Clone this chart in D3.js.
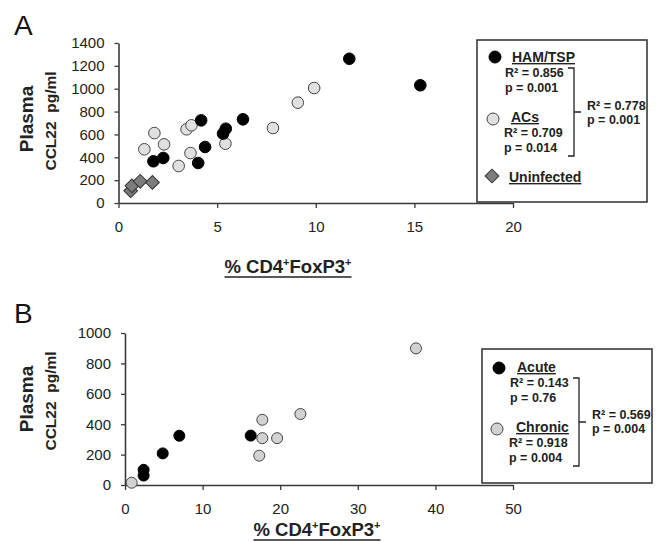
<!DOCTYPE html>
<html>
<head>
<meta charset="utf-8">
<script src="https://cdn.jsdelivr.net/npm/d3@7"></script>
<style>
  body { margin: 0; background: #fff; }
  svg { display: block; font-family: "Liberation Sans", Arial, sans-serif; }
</style>
</head>
<body>
<div id="chart"></div>
<script>
// ---- panel A data: [% CD4+FoxP3+, CCL22 pg/ml]
const hamTsp = [[1.77, 365], [2.27, 394], [4.19, 723], [4.04, 350], [4.39, 490],
                [5.30, 607], [5.44, 650], [6.31, 732], [11.7, 1262], [15.3, 1030]];
const acs = [[1.31, 470], [1.82, 612], [2.31, 513], [3.05, 324], [3.45, 645], [3.70, 680],
             [3.65, 437], [5.42, 519], [7.83, 656], [9.09, 878], [9.92, 1006]];
const uninfected = [[0.62, 108], [0.68, 150], [1.10, 190], [1.72, 180]];
const aTicksX = [0, 5, 10, 15, 20];
const aTicksY = [0, 200, 400, 600, 800, 1000, 1200, 1400];

// ---- panel B data
const acute = [[2.4, 100], [2.4, 62], [4.86, 208], [7.0, 324], [16.2, 325]];
const chronic = [[0.86, 15], [17.7, 429], [17.7, 308], [17.3, 193], [19.6, 308], [22.6, 467], [37.5, 899]];
const bTicksX = [0, 10, 20, 30, 40, 50];
const bTicksY = [0, 200, 400, 600, 800, 1000];

const w = 658, h = 542;
const ink = "#222", axisColor = "#3a3a3a";

const svg = d3.select("#chart").append("svg")
    .attr("width", w)
    .attr("height", h);

function drawPanel(p) {
    const x = d3.scaleLinear().domain([0, d3.max(p.ticksX)]).range(p.xRange);
    const y = d3.scaleLinear().domain([0, d3.max(p.ticksY)]).range(p.yRange);

    const xAxis = svg.append("g")
        .attr("transform", `translate(0, ${p.yRange[0]})`)
        .call(d3.axisBottom(x).tickValues(p.ticksX).tickFormat(d3.format("d"))
            .tickSizeInner(5).tickSizeOuter(0).tickPadding(13));
    const yAxis = svg.append("g")
        .attr("transform", `translate(${p.xRange[0]}, 0)`)
        .call(d3.axisLeft(y).tickValues(p.ticksY).tickFormat(d3.format("d"))
            .tickSizeInner(4).tickSizeOuter(0).tickPadding(10));

    [xAxis, yAxis].forEach(g => {
        g.select(".domain").attr("stroke", axisColor).attr("stroke-width", 1.6);
        g.selectAll(".tick line").attr("stroke", axisColor).attr("stroke-width", 1.3);
        g.selectAll(".tick text").attr("fill", ink).style("font-size", "15px");
    });

    // panel letter
    svg.append("text").attr("x", 14).attr("y", p.letterY)
        .style("font-size", "28px").attr("fill", "#111").text(p.letter);

    // y titles
    svg.append("text")
        .attr("transform", `translate(33, ${p.yTitleY}) rotate(-90)`)
        .attr("text-anchor", "middle")
        .style("font-size", "19px").style("font-weight", "bold").attr("fill", ink)
        .text("Plasma");
    svg.append("text")
        .attr("transform", `translate(56, ${p.yTitleY + 2}) rotate(-90)`)
        .attr("text-anchor", "middle")
        .style("font-size", "15.5px").style("font-weight", "bold").attr("fill", ink)
        .attr("xml:space", "preserve")
        .text("CCL22  pg/ml");

    // x title with superscripts, underlined
    const t = svg.append("text")
        .attr("x", p.xTitleX).attr("y", p.xTitleY)
        .attr("text-anchor", "middle")
        .style("font-size", "18.5px").style("font-weight", "bold").attr("fill", ink);
    t.append("tspan").text("% CD4");
    t.append("tspan").attr("dy", -7).style("font-size", "11px").text("+");
    t.append("tspan").attr("dy", 7).text("FoxP3");
    t.append("tspan").attr("dy", -7).style("font-size", "11px").text("+");
    const bb = t.node().getBBox();
    svg.append("line")
        .attr("x1", bb.x).attr("x2", bb.x + bb.width)
        .attr("y1", p.xTitleY + 4).attr("y2", p.xTitleY + 4)
        .attr("stroke", ink).attr("stroke-width", 1.6);

    // marks
    p.series.forEach(s => {
        const g = svg.append("g");
        if (s.shape === "diamond") {
            g.selectAll("path").data(s.data).enter().append("path")
                .attr("d", d3.symbol(d3.symbolSquare, 95)())
                .attr("transform", d => `translate(${x(d[0])}, ${y(d[1])}) rotate(45)`)
                .attr("fill", s.fill).attr("stroke", "#333").attr("stroke-width", 1);
        } else {
            g.selectAll("circle").data(s.data).enter().append("circle")
                .attr("cx", d => x(d[0])).attr("cy", d => y(d[1]))
                .attr("r", s.r)
                .attr("fill", s.fill).attr("stroke", s.stroke).attr("stroke-width", 1);
        }
    });

    // legend
    const L = p.legend;
    svg.append("rect")
        .attr("x", L.x).attr("y", L.y).attr("width", L.w).attr("height", L.h)
        .attr("fill", "#fff").attr("stroke", axisColor).attr("stroke-width", 1.6);

    L.items.forEach(it => {
        if (it.shape === "diamond") {
            svg.append("path")
                .attr("d", d3.symbol(d3.symbolSquare, 95)())
                .attr("transform", `translate(${it.sx}, ${it.sy}) rotate(45)`)
                .attr("fill", it.fill).attr("stroke", "#333");
        } else {
            svg.append("circle").attr("cx", it.sx).attr("cy", it.sy).attr("r", 6)
                .attr("fill", it.fill).attr("stroke", it.stroke);
        }
        svg.append("text").attr("x", it.lx).attr("y", it.ly)
            .style("font-size", "14px").style("font-weight", "bold")
            .style("text-decoration", "underline").attr("fill", ink)
            .text(it.label);
        (it.stats || []).forEach((s, i) => {
            svg.append("text").attr("x", it.lx - 7).attr("y", it.ly + 15 + i * 15)
                .style("font-size", "12.5px").style("font-weight", "bold").attr("fill", ink)
                .text(s);
        });
    });

    // bracket joining the two groups
    const B = L.bracket;
    svg.append("path")
        .attr("d", `M${B.x - 6},${B.y1} H${B.x} V${B.y2} H${B.x - 6} M${B.x},${(B.y1 + B.y2) / 2} H${B.x + 7}`)
        .attr("fill", "none").attr("stroke", ink).attr("stroke-width", 1.3);
    B.stats.forEach((s, i) => {
        svg.append("text").attr("x", B.x + 13).attr("y", B.ty + i * 14)
            .style("font-size", "12.5px").style("font-weight", "bold").attr("fill", ink)
            .text(s);
    });
}

drawPanel({
    letter: "A", letterY: 35,
    ticksX: aTicksX, ticksY: aTicksY,
    xRange: [118.5, 513], yRange: [203, 43],
    yTitleY: 119, xTitleX: 288, xTitleY: 273,
    series: [
        { data: acs, fill: "#e0e0e0", stroke: "#444", r: 5.8 },
        { data: hamTsp, fill: "#000", stroke: "#000", r: 5.8 },
        { data: uninfected, fill: "#7d7d7d", shape: "diamond" }
    ],
    legend: {
        x: 477, y: 40, w: 170, h: 162,
        items: [
            { label: "HAM/TSP", sx: 495, sy: 57, fill: "#000", stroke: "#000", lx: 512, ly: 62,
              stats: ["R² = 0.856", "p = 0.001"] },
            { label: "ACs", sx: 493, sy: 119, fill: "#e0e0e0", stroke: "#444", lx: 511, ly: 122,
              stats: ["R² = 0.709", "p = 0.014"] },
            { label: "Uninfected", shape: "diamond", sx: 492, sy: 176, fill: "#7d7d7d", lx: 509, ly: 182 }
        ],
        bracket: { x: 574, y1: 68, y2: 156, ty: 110, stats: ["R² = 0.778", "p = 0.001"] }
    }
});

drawPanel({
    letter: "B", letterY: 323,
    ticksX: bTicksX, ticksY: bTicksY,
    xRange: [125, 513], yRange: [485, 333],
    yTitleY: 399, xTitleX: 317, xTitleY: 536,
    series: [
        { data: chronic, fill: "#d2d2d2", stroke: "#444", r: 5.5 },
        { data: acute, fill: "#000", stroke: "#000", r: 5.5 }
    ],
    legend: {
        x: 482, y: 349, w: 170, h: 134,
        items: [
            { label: "Acute", sx: 499, sy: 368, fill: "#000", stroke: "#000", lx: 517, ly: 372,
              stats: ["R² = 0.143", "p = 0.76"] },
            { label: "Chronic", sx: 497, sy: 429, fill: "#d2d2d2", stroke: "#444", lx: 516, ly: 432,
              stats: ["R² = 0.918", "p = 0.004"] }
        ],
        bracket: { x: 579, y1: 378, y2: 466, ty: 419, stats: ["R² = 0.569", "p = 0.004"] }
    }
});
</script>
</body>
</html>
